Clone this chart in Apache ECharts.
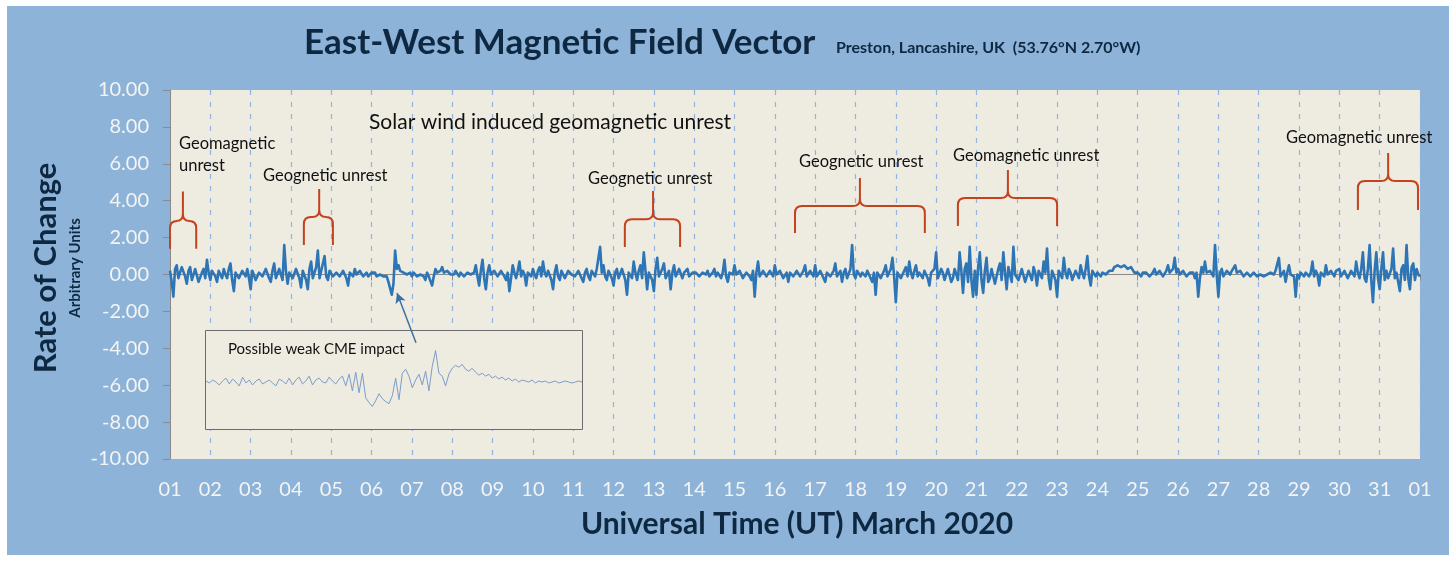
<!DOCTYPE html>
<html><head><meta charset="utf-8">
<script src="https://cdn.jsdelivr.net/npm/echarts@6/dist/echarts.min.js"></script>
<style>html,body{margin:0;padding:0;background:#fff;}#c{width:1456px;height:561px;}</style>
</head><body><div id="c"></div>
<script>
// Tick labels for the day axis (offset 0 = 1 March ... 31 = 1 April)
const dayLabels = ['01','02','03','04','05','06','07','08','09','10','11','12','13','14','15','16',
  '17','18','19','20','21','22','23','24','25','26','27','28','29','30','31','01'];
const yMin = -10, yMax = 10, yStep = 2;
const samplesPerDay = 24;

// East-West rate of change, hourly readings (one row per day of March 2020)
const ewRate = [
  0.2,-0.4,-1.2, 0.3, 0.5,-0.2,-0.3, 0.4, 0.3,-0.1,-0.5, 0.2, 0.4,-0.3,-0.2, 0.3, 0.2,-0.4,-0.4, 0.1, 0.3,-0.2, 0.8, 0.1, // 01
 -0.3, 0.2, 0.2,-0.1,-0.4, 0.2, 0.1,-0.2, 0.3, 0.0,-0.2, 0.3, 0.6,-0.3,-0.9, 0.1, 0.2,-0.2,-0.3, 0.2, 0.1,-0.1, 0.3,-0.2, // 02
 -0.8, 0.2, 0.1,-0.3,-0.3, 0.1, 0.2,-0.1,-0.2, 0.3, 0.3,-0.2,-0.4, 0.2, 0.6,-0.2,-0.1, 0.3, 0.2,-0.3, 1.6, 0.2,-0.5, 0.1, // 03
  0.1,-0.2,-0.3, 0.3, 0.4,-0.2,-0.7, 0.2, 0.3,-0.3,-0.8, 0.3, 0.7,-0.2,-0.1, 0.4, 1.3,-0.2, 0.2, 0.6, 1.0,-0.1,-0.3, 0.2, // 04
  0.2,-0.1,-0.2, 0.1, 0.1,-0.1,-0.1, 0.2, 0.3,-0.2,-0.6, 0.1, 0.1,-0.1, 0.3, 0.0,-0.1, 0.2, 0.1,-0.1, 0.0, 0.1,-0.1, 0.0, // 05
  0.1, 0.0, 0.1,-0.1,-0.1, 0.0, 0.0,-0.1,-0.2,-0.1,-0.4,-0.3,-1.1,-0.5, 1.3, 0.3, 0.5, 0.2, 0.2, 0.1, 0.1, 0.0, 0.0, 0.1, // 06
 -0.1, 0.1, 0.1,-0.1,-0.2, 0.0, 0.0,-0.1,-0.3, 0.1,-0.1,-0.2,-0.6,-0.1, 0.3, 0.1, 0.0, 0.2, 0.4, 0.1, 0.1, 0.2, 0.2, 0.0, // 07
  0.1, 0.0, 0.2, 0.1,-0.1, 0.1, 0.1,-0.1, 0.0, 0.1, 0.2, 0.0,-0.1, 0.1, 0.5,-0.1,-0.6, 0.2, 0.8,-0.2,-0.8, 0.1, 0.5, 0.0, // 08
  0.0, 0.2, 0.3,-0.1,-0.2, 0.2, 0.1,-0.1,-0.3, 0.1,-0.9,-0.2, 0.5, 0.1,-0.2, 0.2, 0.7,-0.1, 0.2, 0.0,-0.6, 0.1, 0.2,-0.1, // 09
  0.3, 0.0,-0.2, 0.2, 0.4,-0.1, 0.7, 0.1,-0.1, 0.2, 0.2,-0.3,-0.8, 0.1, 0.5,-0.1,-0.3, 0.2, 0.3,-0.2,-0.1, 0.2, 0.3, 0.0, // 10
  0.1,-0.1,-0.2, 0.2, 0.2,-0.2,-0.4, 0.1, 0.3,-0.1,-0.3, 0.2, 0.1,-0.1, 0.3, 0.2, 1.5, 0.1, 0.5,-0.1,-0.3, 0.2, 0.1,-0.2, // 11
 -0.6, 0.1, 0.3,-0.2,-0.2, 0.3, 0.4,-0.3,-1.1, 0.1, 0.2,-0.2, 0.7, 0.1,-0.3, 0.2, 0.5,-0.2, 1.2, 0.2,-0.8, 0.1, 0.1,-0.3, // 12
 -0.9, 0.3, 0.9,-0.1,-0.2, 0.3, 0.6,-0.2,-0.3, 0.2,-0.8, 0.1, 0.5,-0.1,-0.2, 0.3, 0.4,-0.2, 0.1, 0.2, 0.3,-0.1,-0.1, 0.1, // 13
  0.0, 0.1, 0.2,-0.1,-0.1, 0.1, 0.1, 0.0, 0.2,-0.1,-0.2, 0.1, 0.3,-0.1, 0.1, 0.2,-0.2, 0.1, 0.8,-0.1,-0.4, 0.1, 0.1, 0.0, // 14
  0.5, 0.0,-0.1, 0.2, 0.3,-0.2,-0.2, 0.1, 0.2,-0.1,-0.3, 0.2,-1.2, 0.1, 0.7,-0.1,-0.2, 0.2, 0.3,-0.1, 0.0, 0.2, 0.2,-0.1, // 15
  0.5, 0.0,-0.1, 0.2, 0.1,-0.2,-0.3, 0.1,-0.4, 0.1, 0.2,-0.1,-0.1, 0.2, 0.3,-0.1,-0.2, 0.2, 0.5,-0.1, 0.0, 0.2, 0.2,-0.1, // 16
  0.5,-0.1,-0.1, 0.2, 0.3,-0.2,-0.4, 0.1, 0.2,-0.1, 0.0, 0.2, 0.6,-0.1,-0.2, 0.2,-0.4, 0.1, 0.3,-0.2,-0.2, 0.3, 1.6, 0.0, // 17
 -0.2, 0.2, 0.3,-0.1, 0.1, 0.2,-0.1, 0.2, 0.2,-0.2,-0.4, 0.1,-1.1, 0.1, 0.2,-0.2,-0.3, 0.2, 0.5,-0.1, 0.1, 0.3, 0.9,-0.1, // 18
 -1.5, 0.1, 0.2,-0.2,-0.1, 0.2, 0.4,-0.1, 0.7, 0.1,-0.2, 0.2, 0.5,-0.1, 0.1, 0.2,-0.2, 0.2, 0.3,-0.2,-0.6, 0.1, 0.1, 0.3, // 19
  1.2,-0.2,-0.3, 0.3, 0.1,-0.3,-0.2, 0.3, 0.3,-0.4,-0.2, 0.3, 0.4,-0.3, 1.2, 0.2,-1.0, 0.3, 0.6,-0.4, 1.5,-0.3,-1.2, 0.2, // 20
 -1.1, 0.4, 1.2,-0.3,-1.0, 0.2, 0.9,-0.4,-0.2, 0.3, 0.4,-0.5,-0.4, 0.3, 0.6,-0.3, 1.2, 0.1,-0.8, 0.4, 0.3,-0.4, 1.5, 0.0, // 21
  0.1,-0.3,-0.3, 0.3, 0.2,-0.4,-0.4, 0.2, 0.1,-0.3, 0.4, 0.1,-0.6, 0.2, 0.3,-0.2, 0.7, 0.1, 1.4,-0.2,-0.8, 0.2, 0.3,-0.3, // 22
 -1.2, 0.2, 0.3,-0.2, 0.9, 0.1,-0.2, 0.3, 0.1,-0.3,-0.4, 0.2, 0.2,-0.2, 0.5, 0.1,-0.2, 0.3, 1.0,-0.1,-0.6, 0.2, 0.2,-0.1, // 23
  0.1, 0.0,-0.1, 0.1, 0.2, 0.0, 0.1, 0.2, 0.3, 0.2, 0.4, 0.3, 0.5, 0.4, 0.4, 0.5, 0.5, 0.4, 0.3, 0.4, 0.4, 0.3, 0.1, 0.2, // 24
  0.1, 0.0,-0.1, 0.1, 0.0, 0.1, 0.1,-0.1, 0.0, 0.1, 0.3, 0.0, 0.1, 0.2, 0.2,-0.1,-0.1, 0.2, 0.5, 0.1, 0.2, 0.3, 0.9, 0.1, // 25
  0.3, 0.0,-0.1, 0.2, 0.2,-0.1,-0.1, 0.1, 0.0, 0.1,-0.2, 0.1,-1.2,-0.2, 0.4, 0.1, 0.7, 0.1, 0.0, 0.2, 0.3,-0.1, 1.6, 0.0, // 26
 -1.2, 0.1, 0.3,-0.1,-0.1, 0.2, 0.1, 0.0, 0.2, 0.1, 0.5, 0.1, 0.0, 0.2, 0.3,-0.1,-0.2, 0.1, 0.1,-0.1,-0.2, 0.1, 0.0,-0.1, // 27
 -0.2, 0.0, 0.0,-0.1,-0.2, 0.0,-0.1, 0.1, 0.1, 0.0, 0.2, 0.1, 0.9,-0.1,-0.1, 0.2,-0.4, 0.1, 0.5, 0.0, 0.1,-0.1,-1.2, 0.0, // 28
 -0.2, 0.1, 0.2,-0.1, 0.1, 0.2,-0.1, 0.1, 0.7,-0.1, 0.2, 0.0,-0.6, 0.1, 0.1,-0.1, 0.5, 0.0, 0.0, 0.2, 0.1,-0.1, 0.2, 0.1, // 29
  0.3,-0.1,-0.1, 0.2, 0.2,-0.2,-0.1, 0.2, 0.3,-0.1, 0.7, 0.1,-0.2, 0.3, 1.2,-0.2,-0.4, 0.3, 1.6,-0.3,-1.5, 0.2, 1.2,-0.2, // 30
 -0.8, 0.3, 1.2,-0.3, 0.2,-0.2,-0.2, 0.3, 1.4,-0.2, 0.1,-0.4,-0.9, 0.3, 0.5,-0.3, 1.6,-0.2,-0.8, 0.4, 0.6,-0.3, 0.3, 0.0, // 31
 -0.1
];

// Inset: zoom on the possible weak CME impact (arbitrary units)
const insetRate = [
  0.1,-0.1, 0.2, 0.0,-0.3, 0.1, 0.4,-0.2, 0.3, 0.0,-0.4, 0.5,-0.1, 0.2,-0.3, 0.1,
  0.3,-0.2, 0.0, 0.2,-0.1,-0.4, 0.3, 0.1,-0.2, 0.4,-0.3, 0.2, 0.5,-0.2, 0.1, 0.6,
 -0.3, 0.2, 0.4, 0.0,-0.1, 0.5, 0.1,-0.2, 0.3, 0.6,-0.4, 0.8,-0.9, 1.0,-1.1, 0.9,
 -1.6,-2.1,-2.5,-1.9,-1.2,-1.7,-2.0,-2.2,-1.4, 0.4,-1.8, 0.9, 1.3, 0.6,-0.6, 0.2,
  0.8,-0.3, 1.1,-0.9, 1.6, 3.2, 0.9, 0.6,-0.4, 0.8, 1.4, 1.7, 1.5, 1.8, 1.3, 1.1,
  1.4, 1.0, 0.7, 0.9, 0.6, 0.8, 0.4, 0.6, 0.3, 0.5, 0.2, 0.4, 0.1, 0.3, 0.0, 0.2,
  0.1, 0.0, 0.2,-0.1, 0.1, 0.0, 0.1,-0.1, 0.0, 0.1,-0.1, 0.0, 0.1, 0.0,-0.1, 0.0,
  0.1, 0.0
];

// Red braces marking unrest: [startDay, endDay, tipDay, legBottom, barLevel, tipTop]
const braces = [
  [0.00, 0.65, 0.32, 1.40, 2.90, 4.50],
  [3.32, 4.04, 3.70, 1.60, 3.12, 4.63],
  [11.28, 12.65, 11.98, 1.49, 3.00, 4.53],
  [15.50, 18.72, 17.11, 2.25, 3.71, 5.23],
  [19.54, 22.00, 20.78, 2.63, 4.15, 5.66],
  [29.46, 30.95, 30.21, 3.50, 5.07, 6.59]
];

// CME arrow: [tailDay, tailValue, headDay, headValue]
const cmeArrow = [6.10, -3.70, 5.63, -1.00];

const mainData = ewRate.map((v, i) => [i / samplesPerDay, v]);
const insetData = insetRate.map((v, i) => [i, v]);

const FONT = 'Lato, "Open Sans", sans-serif';
const NAVY = '#0E2841';

function braceItem(params, api) {
  const x0 = api.value(0), x1 = api.value(1), xt = api.value(2);
  const yb = api.value(3), ybar = api.value(4), ytop = api.value(5);
  const pL = api.coord([x0, yb]), pR = api.coord([x1, yb]);
  const pBarL = api.coord([x0, ybar]), pTip = api.coord([xt, ytop]);
  const pBarT = api.coord([xt, ybar]);
  const xl = pL[0], xr = pR[0], xc = pBarT[0];
  const yB = pL[1], yBar = pBarL[1], yT = pTip[1];
  const r = 7;
  const d =
    'M' + xl + ' ' + yB + ' L' + xl + ' ' + (yBar + r) +
    ' Q' + xl + ' ' + yBar + ' ' + (xl + r) + ' ' + yBar +
    ' L' + (xc - r) + ' ' + yBar +
    ' Q' + xc + ' ' + yBar + ' ' + xc + ' ' + (yBar - r) +
    ' L' + xc + ' ' + yT +
    ' M' + xc + ' ' + (yBar - r) +
    ' Q' + xc + ' ' + yBar + ' ' + (xc + r) + ' ' + yBar +
    ' L' + (xr - r) + ' ' + yBar +
    ' Q' + xr + ' ' + yBar + ' ' + xr + ' ' + (yBar + r) +
    ' L' + xr + ' ' + yB;
  return {
    type: 'path',
    shape: { pathData: d },
    style: { stroke: '#C4421D', lineWidth: 2, fill: null }
  };
}

function txt(text, x, y, size, opts) {
  opts = opts || {};
  return {
    type: 'text', x: x, y: y, z: 10, rotation: opts.rotation || 0,
    style: {
      text: text, fill: opts.color || '#111', font: (opts.weight || 'normal') + ' ' + size + 'px ' + FONT,
      textAlign: opts.align || 'left', textVerticalAlign: 'middle',
      align: opts.align || 'left', verticalAlign: 'middle'
    }
  };
}

const chart = echarts.init(document.getElementById('c'), null, { renderer: 'canvas' });
chart.setOption({
  animation: false,
  backgroundColor: '#ffffff',
  graphic: [
    { type: 'rect', shape: { x: 7, y: 6, width: 1442, height: 549 }, style: { fill: '#8DB3D8' }, z: -10 },
    { type: 'rect', shape: { x: 205.5, y: 330.5, width: 377, height: 99 }, style: { fill: '#EEEBE1', stroke: '#6B6B6B', lineWidth: 1 }, z: 1 },
    txt('East-West Magnetic Field Vector', 304, 43, 35, { weight: 'bold', color: NAVY }),
    txt('Preston, Lancashire, UK  (53.76°N 2.70°W)', 836, 48, 16, { weight: 'bold', color: NAVY }),
    txt('Rate of Change', 46, 268, 31, { weight: 'bold', color: NAVY, align: 'center', rotation: Math.PI / 2 }),
    txt('Arbitrary Units', 75, 268, 15, { weight: 'bold', color: NAVY, align: 'center', rotation: Math.PI / 2 }),
    txt('Universal Time (UT) March 2020', 797, 524, 30, { weight: 'bold', color: NAVY, align: 'center' }),
    txt('Solar wind induced geomagnetic unrest', 369, 122, 21),
    txt('Geomagnetic', 179, 144, 16.5),
    txt('unrest', 179, 166, 16.5),
    txt('Geognetic unrest', 263, 176, 16.5),
    txt('Geognetic unrest', 588, 179, 16.5),
    txt('Geognetic unrest', 799, 162, 16.5),
    txt('Geomagnetic unrest', 953, 156, 16.5),
    txt('Geomagnetic unrest', 1286, 138, 16.5),
    txt('Possible weak CME impact', 228, 349, 15)
  ],
  grid: [
    { left: 170, right: 36, top: 90, bottom: 102, show: true, backgroundColor: '#EEEBE1', borderWidth: 0 },
    { left: 206, top: 333, width: 376, height: 98, show: false }
  ],
  xAxis: [
    {
      type: 'value', gridIndex: 0, min: 0, max: dayLabels.length - 1, interval: 1,
      axisLine: { show: true, lineStyle: { color: '#8A8A8A', width: 1 } },
      axisTick: { show: true, length: 6, lineStyle: { color: '#8A8A8A' } },
      axisLabel: { color: '#F4F4F4', fontSize: 20, fontFamily: FONT, margin: 21,
        formatter: v => dayLabels[Math.round(v)] },
      splitLine: { show: true, lineStyle: { color: '#93B3DA', width: 1.2, type: [5, 7] } }
    },
    { type: 'value', gridIndex: 1, min: 0, max: insetRate.length - 1, show: false }
  ],
  yAxis: [
    {
      type: 'value', gridIndex: 0, min: yMin, max: yMax, interval: yStep,
      axisLine: { show: true, lineStyle: { color: '#8A8A8A', width: 1 } },
      axisTick: { show: true, length: 7, lineStyle: { color: '#8A8A8A' } },
      axisLabel: { color: '#F4F4F4', fontSize: 20, fontFamily: FONT, margin: 21,
        formatter: v => v.toFixed(2) },
      splitLine: { show: false }
    },
    { type: 'value', gridIndex: 1, min: -5, max: 5, show: false }
  ],
  series: [
    {
      type: 'line', xAxisIndex: 0, yAxisIndex: 0, data: mainData, showSymbol: false,
      lineStyle: { color: '#2E75B6', width: 2.6, join: 'round' }, z: 3, silent: true,
      markLine: {
        silent: true, symbol: ['none', 'arrow'], symbolSize: [8, 10],
        label: { show: false },
        lineStyle: { color: '#3E6FA3', width: 1.5, type: 'solid' },
        data: [[{ coord: [cmeArrow[0], cmeArrow[1]] }, { coord: [cmeArrow[2], cmeArrow[3]] }]]
      }
    },
    {
      type: 'line', xAxisIndex: 1, yAxisIndex: 1, data: insetData, showSymbol: false,
      lineStyle: { color: '#7C9DC8', width: 1 }, z: 5, silent: true
    },
    {
      type: 'custom', xAxisIndex: 0, yAxisIndex: 0, data: braces, clip: false, z: 4, silent: true,
      encode: { x: [0, 1, 2], y: [3, 4, 5] },
      renderItem: braceItem
    }
  ]
});
</script>
</body></html>
